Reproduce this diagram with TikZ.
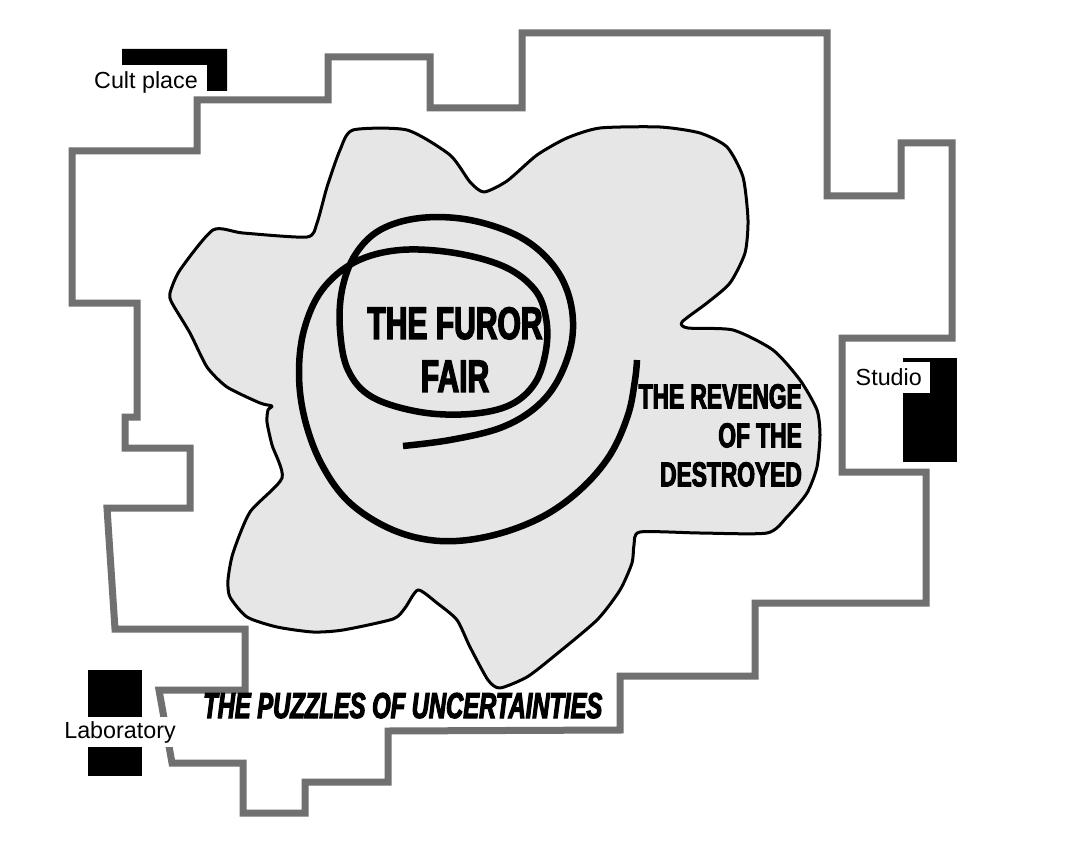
\documentclass[tikz,border=0pt]{standalone}
\usepackage{fontspec}
\setmainfont{Liberation Sans}
\newfontfamily\impactfont[FakeStretch=0.66,FakeBold=3]{Liberation Sans}
\definecolor{wallgrey}{HTML}{707070}
\definecolor{blobfill}{HTML}{E6E6E6}
\begin{document}
\begin{tikzpicture}[x=1pt,y=-1pt,
  wall/.style={draw=wallgrey,line width=7pt,line join=miter},
  blob/.style={draw=black,line width=3pt,fill=blobfill,line join=round},
  spiral/.style={draw=black,line width=6.5pt,line cap=butt},
  block/.style={fill=black},
  placelabel/.style={font=\fontsize{23.3}{26}\selectfont,inner sep=0pt,text=black},
  bigtitle/.style={font=\impactfont\bfseries\fontsize{45.5}{53}\selectfont,inner sep=0pt,text=black},
  midtitle/.style={font=\impactfont\bfseries\fontsize{34.5}{39}\selectfont,inner sep=0pt,text=black},
  italtitle/.style={font=\impactfont\bfseries\itshape\fontsize{36}{40}\selectfont,inner sep=0pt,text=black}]
\useasboundingbox (0,0) rectangle (1089,853);
\fill[white] (0,0) rectangle (1089,853);

% building outline
\draw[wall] (72,151) -- (197,151) -- (197,100) -- (328,100) -- (328,57) -- (430,57)
  -- (430,108) -- (522,108) -- (522,33) -- (827,33) -- (827,196) -- (901,196)
  -- (901,143) -- (952,143) -- (952,338) -- (842,338) -- (842,472) -- (926,472)
  -- (926,603) -- (755,603) -- (755,676) -- (620,676) -- (620,730) -- (388,731)
  -- (388,782) -- (305,782) -- (305,813) -- (243,813) -- (243,763) -- (172,763)
  -- (159,690) -- (245,690) -- (245,629) -- (115,629) -- (107,508) -- (190,508)
  -- (190,448) -- (125,448) -- (125,417) -- (137,417) -- (137,303) -- (72,303) -- cycle;

% central blob
\draw[blob] plot[smooth cycle, tension=0.4] coordinates {
  (353,130) (407,130) (450,155) (470,182) (484,192) (507,181) (537,155) (567,138)
  (600,128) (660,127) (700,133) (727,147) (743,177) (748,220) (745,253) (730,283)
  (707,303) (682,322) (688,328) (733,330) (773,350) (800,380) (817,410) (820,435)
  (817,467) (807,493) (787,517) (767,533) (700,533) (640,532) (634,545) (632,563)
  (620,590) (597,620) (553,657) (527,677) (500,688) (488,680) (470,647) (457,620)
  (437,603) (418,590) (405,608) (393,619) (343,630) (313,632) (277,627) (247,617)
  (230,597) (228,580) (233,553) (250,512) (282,478) (272,445) (267,422) (268,410)
  (272,406) (260,403) (227,387) (207,367) (190,333) (172,303) (170,293) (180,270)
  (213,230) (243,233) (307,237) (317,223) (327,187) (340,150)};

% spiral
\draw[spiral] plot[smooth, tension=0.6] coordinates {
  (403,446) (450,440) (500,428) (535,408) (558,380) (572,340) (570,300) (553,265)
  (520,237) (470,220) (420,218) (380,230) (355,255) (342,290) (340,330) (348,370)
  (372,397) (420,412) (470,414) (510,405) (535,383) (546,350) (546,318) (535,290)
  (505,267) (455,253) (400,250) (355,262) (322,290) (304,330) (299,375) (305,420)
  (322,465) (350,503) (393,530) (440,541) (490,536) (540,518) (580,490) (610,455)
  (628,415) (635,380) (637,360)};

% black blocks
\fill[block] (122,49) -- (227,49) -- (227,91) -- (207,91) -- (207,65) -- (122,65) -- cycle;
\fill[block] (903,358) rectangle (957,462);
\fill[block] (88,670) rectangle (142,776);

% labels
\node[placelabel] (cult) at (146,82) {Cult place};
\node[placelabel,fill=white,inner xsep=8pt,minimum height=31pt,anchor=east] (studio) at (930,377.5) {Studio};
\node[placelabel,fill=white,inner xsep=3pt,minimum height=30pt] (lab) at (120,732) {Laboratory};

\node[bigtitle,align=center,anchor=north] (furor) at (455,307) {THE FUROR\\FAIR};
\node[midtitle,align=right,anchor=north east] (revenge) at (802,384) {THE REVENGE\\OF THE\\DESTROYED};
\node[italtitle,anchor=base west] (puzzles) at (203,718) {THE PUZZLES OF UNCERTAINTIES};
\end{tikzpicture}
\end{document}
